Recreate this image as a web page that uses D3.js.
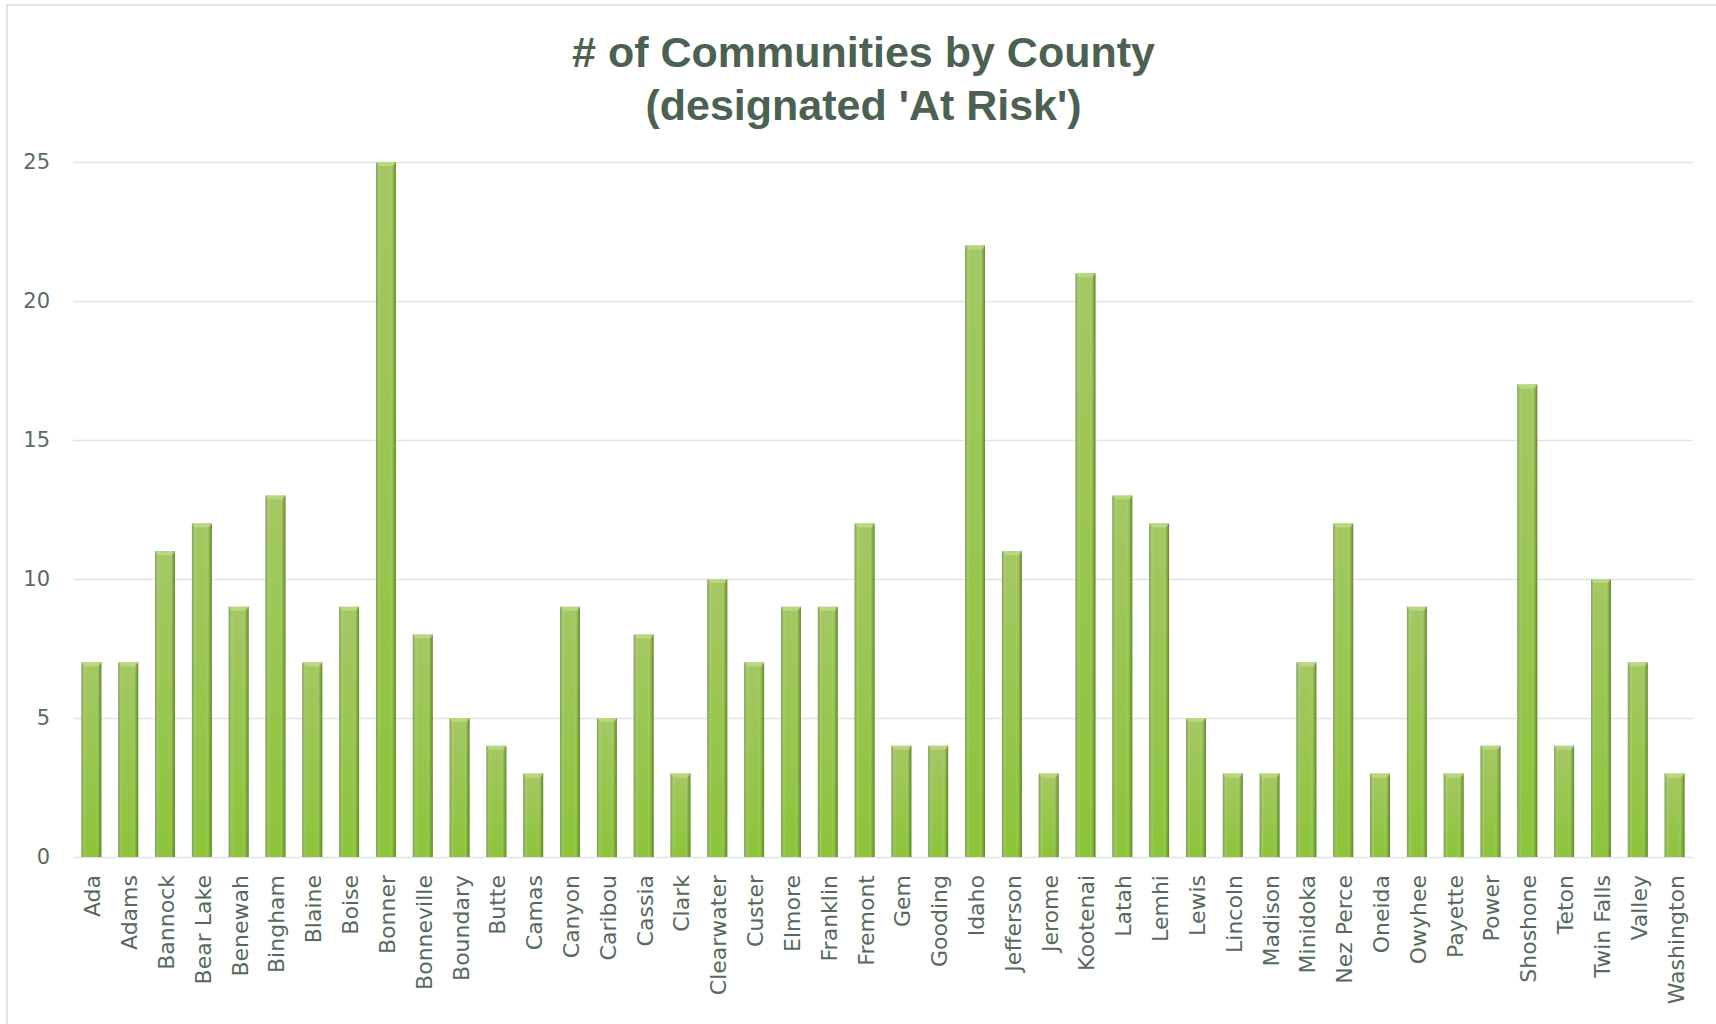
<!DOCTYPE html>
<html>
<head>
<meta charset="utf-8">
<script src="https://cdn.jsdelivr.net/npm/d3@7/dist/d3.min.js"></script>
<style>
  html, body { margin: 0; padding: 0; background: #ffffff; }
  svg { display: block; }
</style>
</head>
<body>
<script>
// Counties and the number of communities designated "At Risk" in each
const counties = [
  "Ada", "Adams", "Bannock", "Bear Lake", "Benewah", "Bingham", "Blaine", "Boise",
  "Bonner", "Bonneville", "Boundary", "Butte", "Camas", "Canyon", "Caribou", "Cassia",
  "Clark", "Clearwater", "Custer", "Elmore", "Franklin", "Fremont", "Gem", "Gooding",
  "Idaho", "Jefferson", "Jerome", "Kootenai", "Latah", "Lemhi", "Lewis", "Lincoln",
  "Madison", "Minidoka", "Nez Perce", "Oneida", "Owyhee", "Payette", "Power", "Shoshone",
  "Teton", "Twin Falls", "Valley", "Washington"
];
const communities = [
  7, 7, 11, 12, 9, 13, 7, 9,
  25, 8, 5, 4, 3, 9, 5, 8,
  3, 10, 7, 9, 9, 12, 4, 4,
  22, 11, 3, 21, 13, 12, 5, 3,
  3, 7, 12, 3, 9, 3, 4, 17,
  4, 10, 7, 3
];
const yTicks = [0, 5, 10, 15, 20, 25];
const titleLines = ["# of Communities by County", "(designated 'At Risk')"];

const W = 1716, H = 1024;
const plot = { left: 73, right: 1693, top: 162, bottom: 857 };

const svg = d3.select("body").append("svg")
  .attr("width", W).attr("height", H);

const defs = svg.append("defs");

// Base fill: lighter yellow-green at the top, richer green at the bottom
const vGrad = defs.append("linearGradient")
  .attr("id", "barFill").attr("x1", 0).attr("y1", 0).attr("x2", 0).attr("y2", 1);
vGrad.append("stop").attr("offset", "0%").attr("stop-color", "#a4c862");
vGrad.append("stop").attr("offset", "100%").attr("stop-color", "#8cc43a");

// Side shading that gives each bar its rounded, bevelled look
const hGrad = defs.append("linearGradient")
  .attr("id", "barShade").attr("x1", 0).attr("y1", 0).attr("x2", 1).attr("y2", 0);
[
  ["0%", "#7f8f6a", 0.85],
  ["8%", "#8ea868", 0.45],
  ["22%", "#ffffff", 0.0],
  ["70%", "#ffffff", 0.0],
  ["88%", "#5f8a22", 0.35],
  ["100%", "#4f7418", 0.8]
].forEach(([o, c, a]) => hGrad.append("stop")
  .attr("offset", o).attr("stop-color", c).attr("stop-opacity", a));

// Chart frame (top and left edges)
svg.append("path")
  .attr("d", `M7,${H} L7,5 L${W},5`)
  .attr("fill", "none")
  .attr("stroke", "#dfe5e2")
  .attr("stroke-width", 2);

// Title
const title = svg.append("text")
  .attr("x", 863.5)
  .attr("text-anchor", "middle")
  .attr("fill", "#4b6152")
  .style("font-family", "'Liberation Sans Narrow', 'Arial Narrow', 'Liberation Sans', sans-serif")
  .style("font-weight", "bold")
  .style("font-size", "43px");
title.selectAll("tspan").data(titleLines).join("tspan")
  .attr("x", 863.5)
  .attr("y", (d, i) => 67 + i * 53)
  .text(d => d);

// Scales
const x = d3.scaleBand()
  .domain(counties)
  .range([plot.left, plot.right])
  .paddingInner(0.46)
  .paddingOuter(0.23);

const y = d3.scaleLinear()
  .domain([0, 25])
  .range([plot.bottom, plot.top]);

// Horizontal gridlines and value labels
const yAxis = d3.axisLeft(y)
  .tickValues(yTicks)
  .tickSize(-(plot.right - plot.left))
  .tickPadding(23)
  .tickFormat(d3.format("d"));

const gy = svg.append("g")
  .attr("transform", `translate(${plot.left},0)`)
  .call(yAxis);
gy.select(".domain").remove();
gy.selectAll(".tick line")
  .attr("stroke", "#dfe5e2")
  .attr("stroke-width", 1.5);
gy.selectAll(".tick text")
  .attr("fill", "#5a6b60")
  .style("font-family", "'DejaVu Sans', sans-serif")
  .style("font-size", "21px");

// Bars
const bars = svg.append("g");
const data = counties.map((c, i) => ({ county: c, value: communities[i] }));

bars.selectAll("rect.base").data(data).join("rect")
  .attr("class", "base")
  .attr("x", d => x(d.county))
  .attr("y", d => y(d.value))
  .attr("width", x.bandwidth())
  .attr("height", d => y(0) - y(d.value))
  .attr("fill", "url(#barFill)");

bars.selectAll("rect.shade").data(data).join("rect")
  .attr("class", "shade")
  .attr("x", d => x(d.county))
  .attr("y", d => y(d.value))
  .attr("width", x.bandwidth())
  .attr("height", d => y(0) - y(d.value))
  .attr("fill", "url(#barShade)");

// Bevelled top cap
bars.selectAll("path.cap").data(data).join("path")
  .attr("class", "cap")
  .attr("d", d => {
    const x0 = x(d.county), x1 = x0 + x.bandwidth(), y0 = y(d.value);
    return `M${x0},${y0} L${x1},${y0} L${x1 - 3},${y0 + 4} L${x0 + 3},${y0 + 4} Z`;
  })
  .attr("fill", "#b9d884")
  .attr("opacity", 0.9);

// Category labels, rotated to read bottom-to-top
const xl = svg.append("g");
xl.selectAll("text").data(counties).join("text")
  .attr("transform", d => `translate(${x(d) + x.bandwidth() / 2 + 1},875) rotate(-90)`)
  .attr("text-anchor", "end")
  .attr("dy", "0.36em")
  .attr("fill", "#56695c")
  .style("font-family", "'DejaVu Sans', sans-serif")
  .style("font-size", "22px")
  .text(d => d);
</script>
</body>
</html>
